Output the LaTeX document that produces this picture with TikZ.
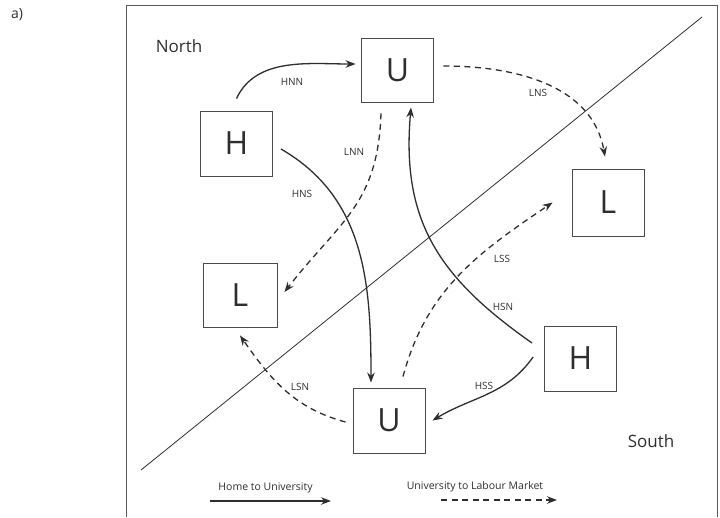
\documentclass[tikz,border=0pt]{standalone}
\usepackage{fontspec}
\setmainfont{Open Sans}
\usetikzlibrary{arrows.meta}
\definecolor{ink}{HTML}{2E2E2E}
\definecolor{boxline}{HTML}{4A4A4A}
\definecolor{frameline}{HTML}{5A5A5A}
\begin{document}
\begin{tikzpicture}[x=1pt,y=1pt,
  box/.style={draw=boxline,line width=0.9pt,minimum width=72pt,minimum height=65pt,inner sep=0pt,font=\fontsize{32}{32}\selectfont,text=ink},
  flow/.style={draw=ink,line width=1.3pt,-{Stealth[length=10pt,width=7.5pt]}},
  lflow/.style={flow,dash pattern=on 6pt off 4.5pt},
  lab/.style={font=\fontsize{10}{12}\selectfont,text=ink,inner sep=0pt},
  region/.style={font=\fontsize{17}{20}\selectfont,text=ink,inner sep=0pt},
  legtext/.style={font=\fontsize{10.5}{12}\selectfont,text=ink,inner sep=0pt}
]
\useasboundingbox (0,0) rectangle (720,-517);
% frame
\draw[frameline,line width=1pt] (126,-517) -- (126,-5) -- (717,-5) -- (717,-517);
% dividing line
\coordinate (dA) at (141,-470);
\coordinate (dB) at (702,-17);
\draw[ink,line width=0.8pt] (dA) -- (dB);
% texts
\node[font=\fontsize{14}{16}\selectfont,text=ink,inner sep=0pt] (tag) at (17,-15) {a)};
\node[region] (north) at (179,-46) {North};
\node[region] (south) at (651,-441) {South};
% boxes
\node[box,minimum height=64pt] (Ut) at (397.5,-70) {U};
\node[box] (Hl) at (236.5,-143.5) {H};
\node[box,minimum height=67pt] (Lr) at (608,-202.5) {L};
\node[box,minimum width=74pt,minimum height=64pt] (Ll) at (240,-295) {L};
\node[box] (Hr) at (580.5,-358.5) {H};
\node[box] (Ub) at (389,-420.5) {U};
% flows home to university
\draw[flow] ([yshift=12pt]Hl.north) to[out=65,in=180,looseness=0.95] ([xshift=-5.5pt,yshift=6pt]Ut.west);
\draw[flow] ([xshift=8pt,yshift=-5.5pt]Hl.east) to[out=-30,in=90] ([xshift=-18pt,yshift=5pt]Ub.north);
\draw[flow] ([xshift=-12pt,yshift=15.5pt]Hr.west) to[out=145,in=-95,looseness=1.1] ([xshift=13.5pt,yshift=-5pt]Ut.south);
\draw[flow] ([xshift=-11pt,yshift=1.5pt]Hr.west) to[out=-125,in=31] ([xshift=7pt]Ub.east);
% flows university to labour market
\draw[lflow] ([xshift=9.5pt,yshift=4pt]Ut.east) to[out=0,in=100] ([xshift=-3pt,yshift=12pt]Lr.north);
\draw[lflow] ([xshift=-16.5pt,yshift=-11pt]Ut.south) to[out=-92,in=52,looseness=1.15] ([xshift=7pt,yshift=3pt]Ll.east);
\draw[lflow] ([xshift=14pt,yshift=11pt]Ub.north) to[out=75,in=-146] ([xshift=-19pt]Lr.west);
\draw[lflow] ([xshift=-7pt,yshift=-1.5pt]Ub.west) to[out=165,in=-55] ([yshift=-8pt]Ll.south);
% flow labels
\node[lab] (hnn) at (292,-82) {HNN};
\node[lab] (lnn) at (354,-152) {LNN};
\node[lab] (hns) at (302,-194) {HNS};
\node[lab] (lns) at (538,-93) {LNS};
\node[lab] (lss) at (502,-259) {LSS};
\node[lab] (hsn) at (503,-307) {HSN};
\node[lab] (hss) at (484,-386) {HSS};
\node[lab] (lsn) at (300,-387) {LSN};
% legend
\node[legtext] (leg1) at (265.5,-487.5) {Home to University};
\node[legtext] (leg2) at (475,-487) {University to Labour Market};
\coordinate (l1a) at (210,-501);
\coordinate (l1b) at (331,-501);
\coordinate (l2a) at (441,-500);
\coordinate (l2b) at (557,-500);
\draw[flow] (l1a) -- (l1b);
\draw[lflow] (l2a) -- (l2b);
\end{tikzpicture}
\end{document}
